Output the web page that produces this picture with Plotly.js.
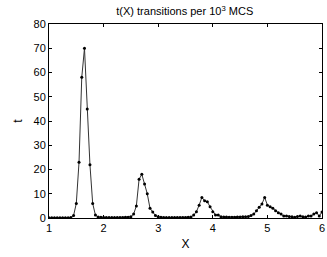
<!DOCTYPE html>
<html><head><meta charset="utf-8">
<script src="https://cdn.plot.ly/plotly-3.0.1.min.js"></script>
<style>html,body{margin:0;padding:0;background:#fff;}#c{width:327px;height:257px;}</style>
</head><body><div id="c"></div>
<script>
const xs = [1.00,1.05,1.10,1.15,1.20,1.25,1.30,1.35,1.40,1.45,1.50,1.55,1.60,1.65,1.70,1.75,1.80,1.85,1.90,1.95,
2.00,2.05,2.10,2.15,2.20,2.25,2.30,2.35,2.40,2.45,2.50,2.55,2.60,2.65,2.70,2.75,2.80,2.85,2.90,2.95,
3.00,3.05,3.10,3.15,3.20,3.25,3.30,3.35,3.40,3.45,3.50,3.55,3.60,3.65,3.70,3.75,3.80,3.85,3.90,3.95,
4.00,4.05,4.10,4.15,4.20,4.25,4.30,4.35,4.40,4.45,4.50,4.55,4.60,4.65,4.70,4.75,4.80,4.85,4.90,4.95,
5.00,5.05,5.10,5.15,5.20,5.25,5.30,5.35,5.40,5.45,5.50,5.55,5.60,5.65,5.70,5.75,5.80,5.85,5.90,5.95,6.00];
const ts = [0.1,0.1,0.1,0.1,0.1,0.1,0.1,0.1,0.2,1.0,6.0,23,58,70,45,22,6.0,1.2,0.4,0.3,
0.2,0.2,0.2,0.2,0.2,0.2,0.2,0.2,0.3,0.3,0.5,1.6,5.0,16,18,14,10,4.0,2.5,1.0,
0.5,0.3,0.2,0.2,0.2,0.2,0.2,0.2,0.2,0.2,0.2,0.3,0.4,1.2,2.6,5.3,8.5,7.1,6.7,4.6,
2.6,1.2,1.2,0.5,0.4,0.4,0.3,0.3,0.3,0.4,0.4,0.5,0.5,0.6,1.0,1.6,3.0,4.4,5.8,8.5,
5.3,4.6,4.0,3.0,2.2,1.6,0.8,0.8,0.6,0.5,0.3,0.6,0.8,0.5,0.4,0.8,0.8,1.6,2.2,0.8,2.5];
const titleText = 't(X) transitions per 10<sup>3</sup> MCS';
const xTicks = [1,2,3,4,5,6];
const yTicks = [0,10,20,30,40,50,60,70,80];

Plotly.newPlot('c', [{
  x: xs, y: ts, type: 'scatter', mode: 'lines+markers',
  line: {color: '#333', width: 1},
  marker: {color: '#000', size: 3},
  hoverinfo: 'none'
}], {
  width: 327, height: 257,
  margin: {l: 49, r: 5, t: 24, b: 39},
  paper_bgcolor: '#fff', plot_bgcolor: '#fff',
  font: {family: 'Liberation Sans, Arial, sans-serif', size: 11, color: '#000'},
  title: {text: titleText, x: 0.565, xanchor: 'center', y: 0.955, yanchor: 'middle', font: {size: 11}},
  showlegend: false,
  xaxis: {range: [1, 6], tickvals: xTicks, ticks: 'inside', ticklen: 3, tickcolor: '#000',
    showline: true, linecolor: '#000', linewidth: 1, mirror: 'ticks', showgrid: false, zeroline: false,
    title: {text: 'X', font: {size: 12}, standoff: 6}},
  yaxis: {range: [0, 80], tickvals: yTicks, ticks: 'inside', ticklen: 3, tickcolor: '#000',
    showline: true, linecolor: '#000', linewidth: 1, mirror: 'ticks', showgrid: false, zeroline: false,
    title: {text: 't', font: {size: 12}, standoff: 8}}
}, {displayModeBar: false, staticPlot: true});
</script></body></html>
